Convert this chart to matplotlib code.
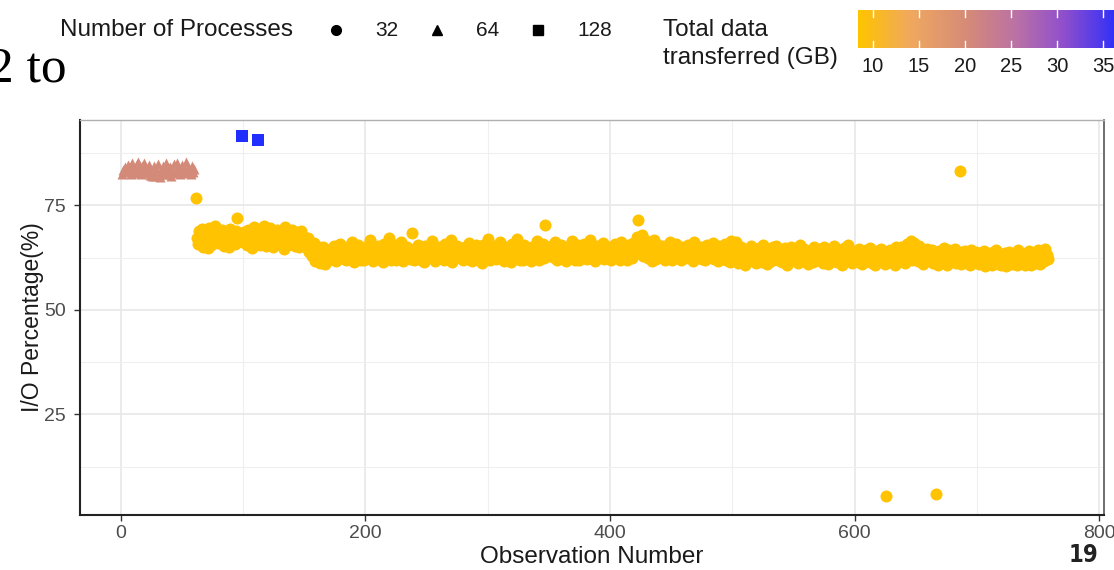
import numpy as np
import matplotlib
matplotlib.use("Agg")
import matplotlib.pyplot as plt
from matplotlib.colors import LinearSegmentedColormap, Normalize

# ---- data ----
# 64 processes (triangles), observations 1..60
tri_pct = [82.6, 83.4, 84.1, 82.9, 83.8, 84.6, 83.1, 82.4, 85.0, 84.2,
           83.5, 82.8, 84.9, 85.3, 83.7, 82.5, 84.4, 83.0, 85.1, 84.0,
           82.7, 83.9, 84.7, 82.3, 81.9, 83.2, 84.5, 82.1, 83.6, 84.8,
           82.2, 81.8, 83.3, 84.3, 82.6, 83.0, 85.2, 82.4, 83.8, 84.1,
           82.0, 83.5, 84.9, 82.7, 83.1, 85.0, 84.2, 82.5, 83.7, 84.6,
           82.9, 83.4, 85.4, 82.8, 84.0, 83.3, 82.6, 84.4, 83.0, 83.6]
tri_start = 1

# 128 processes (squares)
sq_obs = [99, 112]
sq_pct = [91.5, 90.5]

# 32 processes (circles), observations 61..758 (square observations skipped)
circ_start = 61
circ_pct = [
    76.7,
    67.2, 65.8, 68.9, 66.4, 69.3, 65.1, 67.8, 68.4, 66.0, 64.7,
    69.6, 67.1, 65.5, 68.2, 66.8, 70.1, 67.5, 65.9, 68.7, 66.3,
    67.9, 69.0, 65.3, 66.9, 68.1, 67.4, 64.9, 69.4, 66.6, 68.5,
    67.0, 65.7, 68.8, 71.9, 66.2, 67.6, 68.3,
    66.1, 68.6, 67.3, 65.4, 69.2, 66.7, 68.0, 64.8, 67.7, 69.8, 66.5, 68.4,
    67.1, 65.6, 68.9, 66.3, 70.0, 67.4, 65.2, 68.1, 66.8, 69.5,
    67.6, 65.0, 68.3, 66.4, 67.9, 69.1, 65.8, 66.9, 68.6, 67.2,
    64.6, 69.7, 66.0, 67.8, 65.5, 68.2, 66.6, 69.0, 67.0, 65.3,
    68.5, 66.2, 67.5, 64.9, 68.8, 66.7, 65.9, 67.3,
    66.4, 64.8, 67.1, 63.9, 65.6, 62.8, 64.5, 66.0, 61.7, 63.4,
    62.2, 64.9, 61.3, 63.7, 65.1, 62.5, 60.9, 64.2, 63.0, 61.8,
    63.2, 64.6, 62.1, 65.3, 63.8, 61.6, 64.1, 62.9, 65.7, 63.4,
    62.4, 64.8, 63.0, 61.9, 65.1, 63.6, 62.7, 64.3, 66.2, 63.1,
    61.4, 64.0, 62.8, 65.5, 63.3, 62.0, 64.7, 63.9, 61.8, 65.0,
    63.5, 62.3, 64.4, 66.8, 63.0, 61.7, 64.9, 62.6, 63.8, 65.2,
    62.1, 64.2, 63.6, 61.5, 65.8, 63.1, 62.5, 64.6, 67.2, 63.4,
    62.0, 64.5, 63.2, 65.4, 61.9, 63.7, 64.8, 62.4, 66.1, 63.0,
    61.6, 64.3, 62.9, 65.0, 63.5, 62.2, 64.1, 68.3, 63.3, 61.8,
    64.7, 62.6, 65.6, 63.1, 62.0, 64.4, 63.8, 61.4, 65.3, 63.6,
    62.8, 64.9, 63.0, 66.4, 62.3, 63.9, 61.7, 64.2, 63.4, 65.1,
    62.5, 64.0, 63.2, 61.9, 65.7, 63.7, 62.1, 64.6, 63.3, 66.6,
    61.5, 63.8, 64.5, 62.7, 65.2, 63.0, 62.4, 64.8, 63.5, 61.8,
    65.0, 63.1, 64.3, 62.2, 66.0, 63.6, 61.6, 64.1, 62.9, 65.4,
    63.2, 62.0, 64.7, 63.9, 61.3, 65.6, 63.4, 62.6, 64.4, 67.0,
    63.0, 61.9, 64.9, 62.4, 65.3, 63.7, 62.1, 64.2, 63.5, 66.3,
    62.8, 64.6, 61.7, 63.3, 65.1, 62.5, 64.0, 63.8, 61.4, 65.8,
    63.1, 62.3, 64.8, 66.9, 63.6, 62.0, 64.3, 63.0, 61.8, 65.5,
    63.9, 62.7, 64.5, 63.2, 61.6, 65.0, 63.4, 62.2, 64.7, 66.5,
    63.0, 61.9, 64.1, 63.6, 65.7, 62.4, 70.2, 63.8, 62.9, 64.4,
    63.5, 65.2, 62.6, 64.0, 66.1, 63.1, 61.8, 64.7, 63.3, 65.6,
    62.4, 64.3, 63.9, 61.6, 65.0, 63.2, 64.8, 62.7, 66.4, 63.6,
    62.0, 64.5, 63.0, 65.4, 61.9, 64.1, 63.7, 62.5, 65.8, 63.4,
    62.2, 64.9, 63.1, 66.7, 62.8, 64.2, 63.5, 61.7, 65.3, 63.8,
    62.9, 64.6, 63.2, 65.9, 62.1, 64.0, 63.6, 62.4, 65.1, 63.0,
    61.8, 64.4, 63.3, 65.7, 62.6, 64.8, 63.9, 62.0, 66.2, 63.4,
    62.7, 64.1, 63.7, 61.9, 65.5, 63.2, 64.9, 62.3, 66.0, 63.8,
    64.5, 67.3, 71.4, 63.6, 65.2, 67.9, 62.8, 64.7, 66.6, 63.1,
    62.5, 65.0, 63.9, 61.7, 64.3, 66.8, 63.4, 62.1, 65.6, 63.0,
    64.2, 62.6, 65.3, 63.8, 61.9, 64.9, 63.2, 62.4, 66.1, 63.6,
    62.0, 64.6, 63.1, 65.8, 62.7, 64.0, 63.5, 61.8, 65.1, 63.9,
    62.3, 64.8, 63.3, 65.4, 62.9, 64.1, 63.7, 61.6, 66.3, 63.0,
    62.5, 64.4, 63.6, 65.0, 62.1, 64.7, 63.2, 61.9, 65.5, 63.8,
    62.8, 64.2, 63.4, 66.0, 62.2, 64.5, 63.9, 61.7, 65.2, 63.1,
    62.6, 64.9, 63.0, 65.7, 62.0, 64.3, 63.5, 61.5, 66.5, 63.3,
    62.4, 64.1, 66.2, 62.9, 61.3, 63.7, 65.0, 62.2, 63.5, 60.8,
    64.3, 62.7, 63.9, 61.6, 65.2, 62.0, 63.4, 64.6, 61.1, 63.0,
    62.5, 64.8, 63.2, 61.4, 65.5, 62.8, 63.6, 60.9, 64.2, 62.3,
    63.8, 61.7, 64.9, 62.6, 63.1, 65.3, 61.9, 63.5, 62.1, 64.4,
    61.5, 63.3, 64.7, 62.4, 60.7, 63.9, 62.8, 65.1, 61.8, 63.0,
    64.2, 62.2, 63.6, 61.2, 65.4, 62.9, 63.4, 61.6, 64.5, 62.5,
    63.1, 60.9, 64.0, 62.7, 63.8, 61.4, 65.0, 62.3, 63.5, 61.9,
    64.6, 62.0, 63.2, 61.3, 64.9, 62.6, 63.7, 61.0, 64.1, 62.8,
    63.4, 61.7, 65.2, 62.1, 63.0, 61.5, 64.3, 62.4, 63.6, 60.8,
    64.7, 62.9, 63.3, 61.8, 65.5, 62.2, 63.9, 61.1, 64.0, 62.5,
    62.1, 63.8, 61.4, 64.5, 62.7, 60.9, 63.3, 62.0, 64.2, 61.6,
    63.0, 62.4, 64.8, 61.2, 63.6, 62.9, 60.7, 64.0, 62.3, 63.4,
    61.8, 64.6, 62.5, 63.1, 61.0, 5.5, 63.9, 62.2, 64.3, 61.5,
    62.8, 63.5, 60.8, 64.9, 62.0, 63.2, 61.7, 65.1, 62.6, 63.7,
    61.3, 64.4, 65.8, 62.9, 63.6, 66.4, 61.9, 64.7, 65.9, 62.4,
    63.9, 61.6, 65.3, 62.2, 64.1, 60.9, 63.4, 62.7, 64.6, 61.8,
    63.0, 62.3, 64.2, 61.1, 63.7, 62.5, 6.0, 60.8, 64.0, 62.1,
    63.5, 61.5, 64.8, 62.8, 63.1, 60.7, 64.3, 62.0, 63.6, 61.9,
    62.6, 64.5, 61.3, 63.2, 62.4, 83.1, 60.9, 63.8, 62.1, 64.1,
    61.7, 63.0, 62.5, 60.6, 64.4, 62.2, 63.3, 61.4, 63.9, 62.0,
    62.8, 60.9, 63.5, 61.6, 62.3, 64.0, 60.5, 62.9, 61.8, 63.3,
    62.1, 60.7, 63.8, 61.4, 62.6, 64.2, 61.0, 62.4, 63.1, 60.8,
    62.7, 61.5, 63.6, 60.4, 62.2, 63.9, 61.7, 62.9, 60.9, 63.4,
    61.9, 62.5, 60.6, 64.3, 62.0, 61.3, 63.2, 62.6, 60.8, 63.7,
    61.4, 62.8, 64.1, 60.7, 62.3, 63.5, 61.6, 62.9, 61.1, 64.4,
    62.2, 60.9, 63.8, 62.5, 61.7, 64.6, 63.0, 62.1,
]

# total data transferred (GB) per process count
gb_32 = 8.6
gb_64 = 20.5
gb_128 = 36.8
gb_min, gb_max = 8.4, 37.0
cbar_ticks = [10, 15, 20, 25, 30, 35]

proc_labels = ["32", "64", "128"]

# ---- build x positions ----
tri_obs = np.arange(tri_start, tri_start + len(tri_pct))
circ_obs = [o for o in range(circ_start, circ_start + len(circ_pct) + len(sq_obs))
            if o not in sq_obs]

cmap = LinearSegmentedColormap.from_list(
    "gb", [(0.0, "#FFC400"), (0.2, "#F0A860"), (0.42, "#D48A78"),
           (0.6, "#BB72A5"), (0.78, "#9050CC"), (0.93, "#4A38EE"),
           (1.0, "#1E2DFF")])
norm = Normalize(gb_min, gb_max)

plt.rcParams['font.family'] = ['Liberation Sans', 'DejaVu Sans']

W, H = 1114, 570
fig = plt.figure(figsize=(W / 100, H / 100), dpi=100)


def fx(px):
    return px / W


def fy(py):
    return 1 - py / H


ax = fig.add_axes([fx(80), fy(515), fx(1104) - fx(80), fy(120) - fy(515)])

ax.scatter(circ_obs, circ_pct, marker='o', s=75, color=cmap(norm(gb_32)),
           linewidths=0, zorder=3)
ax.scatter(tri_obs, tri_pct, marker='^', s=52, color=cmap(norm(gb_64)),
           linewidths=0, zorder=3)
ax.scatter(sq_obs, sq_pct, marker='s', s=72, color=cmap(norm(gb_128)),
           linewidths=0, zorder=3)

ax.set_xlim(-33.5, 804)
ax.set_ylim(0.9, 95.4)
ax.set_xticks([0, 200, 400, 600, 800])
ax.set_xticks([100, 300, 500, 700], minor=True)
ax.set_yticks([25, 50, 75])
ax.set_yticks([12.5, 37.5, 62.5, 87.5], minor=True)
ax.grid(True, which='major', color='#E6E6E6', linewidth=1.1, zorder=0)
ax.grid(True, which='minor', color='#EFEFEF', linewidth=0.8, zorder=0)
ax.set_axisbelow(True)
ax.tick_params(which='minor', length=0)
ax.tick_params(which='major', length=4, width=1, color='#333333',
               labelcolor='#4D4D4D', labelsize=14, pad=3)
ax.tick_params(axis='y', pad=6)

for side in ['left', 'bottom']:
    ax.spines[side].set_color('#222222')
    ax.spines[side].set_linewidth(1.5)
ax.spines['top'].set_color('#B0B0B0')
ax.spines['top'].set_linewidth(1)
ax.spines['right'].set_color('#555555')
ax.spines['right'].set_linewidth(1.2)

ax.set_xlabel("Observation Number", fontsize=17.5, color='#1A1A1A', labelpad=3)
ax.set_ylabel("I/O Percentage(%)", fontsize=16.5, color='#1A1A1A', labelpad=0)

# ---- legend: shapes ----
fig.text(fx(60), fy(30), "Number of Processes", fontsize=17.5, color='#1A1A1A',
         va='center', ha='left')
for mx, lx, mk, lab in zip([336, 437, 538], [375, 476, 577],
                           ['o', '^', 's'], proc_labels):
    fig.add_artist(plt.Line2D([fx(mx)], [fy(30)], marker=mk, markersize=7,
                              color='black', linestyle='none',
                              transform=fig.transFigure))
    fig.text(fx(lx), fy(30), lab, fontsize=15, color='#1A1A1A',
             va='center', ha='left')

# ---- legend: colour bar ----
fig.text(fx(663), fy(30), "Total data", fontsize=17.5, color='#1A1A1A',
         va='center', ha='left')
fig.text(fx(663), fy(58), "transferred (GB)", fontsize=17.5, color='#1A1A1A',
         va='center', ha='left')

cax = fig.add_axes([fx(858), fy(48), fx(1130) - fx(858), fy(10) - fy(48)])
cb_hi = gb_min + (1130 - 858) / 9.22
grad = np.linspace(gb_min, cb_hi, 400).reshape(1, -1)
cax.imshow(grad, aspect='auto', cmap=cmap, norm=norm,
           extent=[gb_min, cb_hi, 0, 1])
cax.set_xlim(gb_min, cb_hi)
cax.set_ylim(0, 1)
for t in cbar_ticks:
    cax.plot([t, t], [0, 0.18], color='white', lw=1)
    cax.plot([t, t], [0.82, 1], color='white', lw=1)
cax.set_xticks([])
cax.set_yticks([])
for s in cax.spines.values():
    s.set_visible(False)
for t in cbar_ticks:
    fig.text(fx(858 + (t - gb_min) * 9.22), fy(66), str(t), fontsize=14.5,
             color='#1A1A1A', ha='center', va='center')

# slide remnants
fig.text(fx(-12), fy(82), "2 to", fontsize=37, family='Liberation Serif',
         color='black', va='baseline', ha='left')
fig.text(fx(1083), fy(555), "19", fontsize=17, fontweight='bold',
         family='DejaVu Sans', fontstretch='condensed', color='#222222',
         va='center', ha='center')

fig.savefig("out.png", dpi=100)
